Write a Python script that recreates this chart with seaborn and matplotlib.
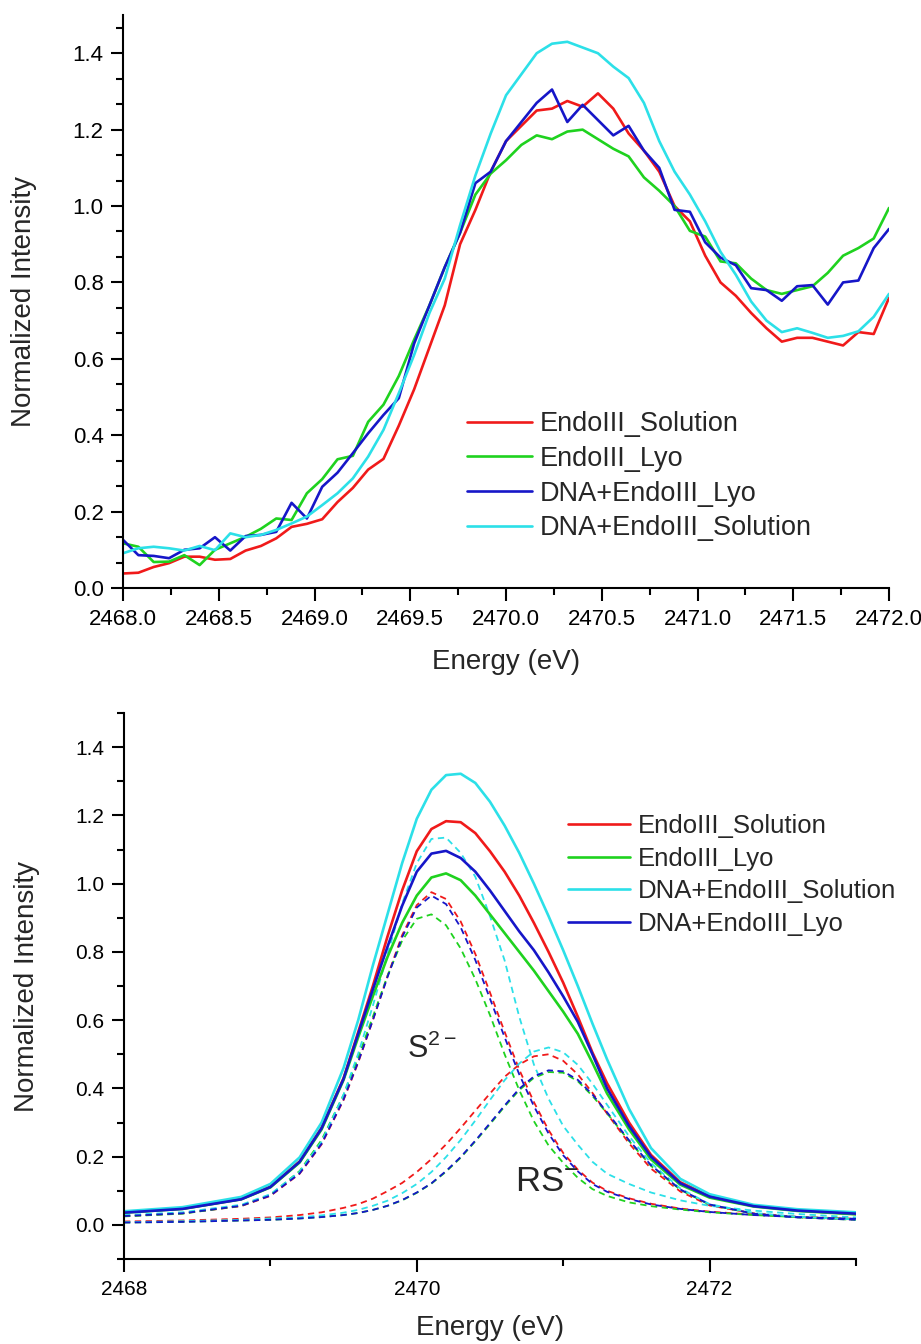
import matplotlib
matplotlib.use("Agg")
import matplotlib.pyplot as plt
from matplotlib.ticker import MultipleLocator, AutoMinorLocator, FormatStrFormatter
import seaborn as sns
from sys import exit

EXIT_SUCCESS = 0

# upper panel: raw spectra
energyTop = [2468.00, 2468.08, 2468.16, 2468.24, 2468.32, 2468.40, 2468.48, 2468.56, 2468.64, 2468.72,
	2468.80, 2468.88, 2468.96, 2469.04, 2469.12, 2469.20, 2469.28, 2469.36, 2469.44, 2469.52,
	2469.60, 2469.68, 2469.76, 2469.84, 2469.92, 2470.00, 2470.08, 2470.16, 2470.24, 2470.32,
	2470.40, 2470.48, 2470.56, 2470.64, 2470.72, 2470.80, 2470.88, 2470.96, 2471.04, 2471.12,
	2471.20, 2471.28, 2471.36, 2471.44, 2471.52, 2471.60, 2471.68, 2471.76, 2471.84, 2471.92, 2472.00]
solutionTop = [0.038, 0.040, 0.055, 0.065, 0.082, 0.082, 0.074, 0.076, 0.098, 0.110, 0.130, 0.160, 0.168,
	0.180, 0.225, 0.262, 0.310, 0.338, 0.425, 0.520, 0.630, 0.740, 0.900, 0.990, 1.090, 1.170, 1.210,
	1.250, 1.255, 1.275, 1.260, 1.295, 1.255, 1.190, 1.145, 1.090, 1.000, 0.960, 0.870, 0.800, 0.765,
	0.720, 0.680, 0.645, 0.655, 0.655, 0.645, 0.635, 0.670, 0.665, 0.760]
lyoTop = [0.117, 0.108, 0.068, 0.069, 0.086, 0.060, 0.100, 0.117, 0.134, 0.155, 0.182, 0.178, 0.248,
	0.285, 0.337, 0.346, 0.435, 0.480, 0.555, 0.650, 0.740, 0.840, 0.930, 1.030, 1.085, 1.120, 1.160,
	1.185, 1.175, 1.195, 1.200, 1.175, 1.150, 1.130, 1.075, 1.040, 1.000, 0.935, 0.920, 0.855, 0.850,
	0.810, 0.780, 0.770, 0.780, 0.790, 0.825, 0.870, 0.890, 0.915, 0.995]
dnaLyoTop = [0.126, 0.086, 0.084, 0.078, 0.100, 0.104, 0.133, 0.098, 0.136, 0.139, 0.147, 0.223, 0.182,
	0.265, 0.302, 0.353, 0.405, 0.453, 0.497, 0.640, 0.740, 0.840, 0.930, 1.060, 1.090, 1.170, 1.220,
	1.270, 1.305, 1.220, 1.265, 1.225, 1.185, 1.210, 1.145, 1.100, 0.990, 0.985, 0.905, 0.865, 0.845,
	0.785, 0.780, 0.752, 0.790, 0.793, 0.742, 0.800, 0.805, 0.890, 0.940]
dnaSolutionTop = [0.091, 0.104, 0.108, 0.104, 0.098, 0.110, 0.099, 0.143, 0.133, 0.139, 0.152, 0.169, 0.187,
	0.217, 0.248, 0.287, 0.344, 0.414, 0.510, 0.610, 0.720, 0.810, 0.950, 1.080, 1.190, 1.290, 1.345,
	1.400, 1.425, 1.430, 1.415, 1.400, 1.365, 1.335, 1.270, 1.170, 1.090, 1.030, 0.960, 0.880, 0.820,
	0.750, 0.700, 0.670, 0.680, 0.668, 0.655, 0.660, 0.672, 0.710, 0.770]

# lower panel: fits (solid) and S2- / RS- components (dashed)
energyFit = [2468.0, 2468.4, 2468.8, 2469.0, 2469.2, 2469.35, 2469.5, 2469.6, 2469.7, 2469.8, 2469.9,
	2470.0, 2470.1, 2470.2, 2470.3, 2470.4, 2470.5, 2470.6, 2470.7, 2470.8, 2470.9, 2471.0, 2471.1,
	2471.2, 2471.3, 2471.45, 2471.6, 2471.8, 2472.0, 2472.3, 2472.6, 2473.0]
solutionFit = [0.037, 0.048, 0.076, 0.112, 0.186, 0.285, 0.430, 0.565, 0.700, 0.845, 0.980, 1.095, 1.160,
	1.183, 1.180, 1.148, 1.095, 1.035, 0.965, 0.885, 0.800, 0.710, 0.610, 0.505, 0.415, 0.300, 0.205,
	0.125, 0.085, 0.056, 0.043, 0.032]
lyoFit = [0.036, 0.047, 0.075, 0.110, 0.183, 0.280, 0.425, 0.550, 0.670, 0.785, 0.885, 0.965, 1.018,
	1.030, 1.010, 0.965, 0.910, 0.855, 0.800, 0.745, 0.685, 0.625, 0.560, 0.475, 0.385, 0.280, 0.192,
	0.118, 0.080, 0.054, 0.041, 0.031]
dnaSolutionFit = [0.040, 0.052, 0.082, 0.120, 0.198, 0.300, 0.460, 0.600, 0.760, 0.910, 1.060, 1.190, 1.275,
	1.318, 1.322, 1.295, 1.240, 1.170, 1.090, 1.000, 0.905, 0.805, 0.700, 0.590, 0.485, 0.340, 0.225,
	0.135, 0.090, 0.059, 0.046, 0.037]
dnaLyoFit = [0.036, 0.047, 0.075, 0.111, 0.185, 0.283, 0.428, 0.560, 0.690, 0.815, 0.935, 1.035, 1.088,
	1.096, 1.075, 1.035, 0.980, 0.920, 0.860, 0.805, 0.740, 0.670, 0.595, 0.500, 0.400, 0.290, 0.200,
	0.122, 0.083, 0.055, 0.042, 0.033]

solutionS2 = [0.026, 0.034, 0.055, 0.085, 0.150, 0.236, 0.366, 0.476, 0.600, 0.729, 0.849, 0.937, 0.975,
	0.955, 0.889, 0.794, 0.681, 0.566, 0.455, 0.360, 0.278, 0.211, 0.162, 0.124, 0.100, 0.078, 0.062,
	0.048, 0.039, 0.030, 0.024, 0.018]
lyoS2 = [0.025, 0.033, 0.056, 0.088, 0.158, 0.249, 0.381, 0.491, 0.610, 0.730, 0.833, 0.897, 0.910,
	0.878, 0.810, 0.720, 0.615, 0.500, 0.395, 0.304, 0.233, 0.182, 0.138, 0.105, 0.085, 0.066, 0.055,
	0.045, 0.037, 0.029, 0.023, 0.017]
dnaSolutionS2 = [0.029, 0.037, 0.059, 0.090, 0.156, 0.244, 0.382, 0.502, 0.642, 0.793, 0.941, 1.060, 1.131,
	1.135, 1.090, 1.020, 0.905, 0.775, 0.610, 0.470, 0.370, 0.290, 0.235, 0.185, 0.150, 0.120, 0.095,
	0.072, 0.056, 0.042, 0.032, 0.022]
dnaLyoS2 = [0.026, 0.034, 0.056, 0.086, 0.151, 0.238, 0.368, 0.478, 0.600, 0.726, 0.843, 0.930, 0.965,
	0.940, 0.872, 0.776, 0.663, 0.550, 0.441, 0.348, 0.268, 0.204, 0.157, 0.120, 0.097, 0.076, 0.060,
	0.047, 0.038, 0.029, 0.023, 0.018]

solutionRS = [0.010, 0.013, 0.018, 0.022, 0.029, 0.037, 0.050, 0.061, 0.077, 0.099, 0.123, 0.155, 0.193,
	0.236, 0.284, 0.335, 0.385, 0.434, 0.470, 0.494, 0.500, 0.481, 0.441, 0.387, 0.326, 0.239, 0.165,
	0.098, 0.057, 0.034, 0.023, 0.016]
lyoRS = [0.007, 0.009, 0.013, 0.015, 0.019, 0.023, 0.029, 0.035, 0.044, 0.056, 0.072, 0.094, 0.121,
	0.156, 0.197, 0.245, 0.295, 0.347, 0.395, 0.431, 0.448, 0.446, 0.421, 0.378, 0.327, 0.246, 0.173,
	0.103, 0.059, 0.033, 0.022, 0.015]
dnaSolutionRS = [0.008, 0.011, 0.015, 0.019, 0.022, 0.028, 0.036, 0.044, 0.056, 0.071, 0.093, 0.120, 0.155,
	0.199, 0.249, 0.306, 0.366, 0.424, 0.473, 0.508, 0.520, 0.506, 0.469, 0.414, 0.352, 0.260, 0.181,
	0.107, 0.061, 0.035, 0.024, 0.016]
dnaLyoRS = [0.007, 0.009, 0.013, 0.015, 0.019, 0.023, 0.029, 0.035, 0.044, 0.056, 0.073, 0.095, 0.122,
	0.158, 0.199, 0.247, 0.298, 0.350, 0.399, 0.435, 0.453, 0.450, 0.425, 0.382, 0.330, 0.248, 0.175,
	0.104, 0.060, 0.033, 0.022, 0.015]

RED = "#f01a1a"
GREEN = "#1fd21f"
BLUE = "#1616c8"
CYAN = "#2ce0e8"


def styleAxes(ax, tickSize):
	sns.despine(ax=ax)
	for side in ("left", "bottom"):
		ax.spines[side].set_linewidth(1.5)
		ax.spines[side].set_color("black")
	ax.tick_params(axis="both", which="major", direction="out", length=9, width=1.5,
		labelsize=tickSize, colors="black", pad=5)
	ax.tick_params(axis="both", which="minor", direction="out", length=5, width=1.5, colors="black")
	ax.tick_params(axis="x", which="major", pad=6)
	ax.set_ylabel("Normalized Intensity", fontsize=20)
	ax.set_xlabel("Energy (eV)", fontsize=20)


def main():
	sns.set_style("ticks")
	plt.rcParams["font.family"] = ["Liberation Sans", "DejaVu Sans"]
	plt.rcParams["mathtext.fontset"] = "custom"
	plt.rcParams["mathtext.rm"] = "Liberation Sans"
	fig = plt.figure(figsize=(9.21, 13.44), dpi=100)

	# --- top panel
	axTop = fig.add_axes([0.1336, 0.5625, 0.8317, 0.4263])
	topSeries = [(solutionTop, RED, "EndoIII_Solution"), (lyoTop, GREEN, "EndoIII_Lyo"),
		(dnaLyoTop, BLUE, "DNA+EndoIII_Lyo"), (dnaSolutionTop, CYAN, "DNA+EndoIII_Solution")]
	handles = []
	for values, color, name in topSeries:
		sns.lineplot(x=energyTop, y=values, ax=axTop, color=color, linewidth=1.9, errorbar=None, legend=False)
		handles.append(axTop.get_lines()[-1])
	axTop.set_xlim(2468, 2472)
	axTop.set_ylim(0, 1.5)
	axTop.xaxis.set_major_locator(MultipleLocator(0.5))
	axTop.xaxis.set_minor_locator(AutoMinorLocator(2))
	axTop.xaxis.set_major_formatter(FormatStrFormatter("%.1f"))
	axTop.yaxis.set_major_locator(MultipleLocator(0.2))
	axTop.yaxis.set_minor_locator(AutoMinorLocator(3))
	axTop.yaxis.set_major_formatter(FormatStrFormatter("%.1f"))
	styleAxes(axTop, 16)
	axTop.yaxis.set_label_coords(-0.112, 0.5)
	axTop.xaxis.set_label_coords(0.5, -0.106)
	axTop.legend(handles, [s[2] for s in topSeries], loc="upper left", bbox_to_anchor=(0.507, 0.694),
		bbox_transform=fig.transFigure, frameon=False, fontsize=19.5, handlelength=2.4,
		handletextpad=0.3, labelspacing=0.32, borderpad=0, borderaxespad=0)

	# --- bottom panel
	axBot = fig.add_axes([0.1346, 0.0632, 0.7948, 0.4063])
	components = [(solutionS2, solutionRS, RED), (lyoS2, lyoRS, GREEN),
		(dnaSolutionS2, dnaSolutionRS, CYAN), (dnaLyoS2, dnaLyoRS, BLUE)]
	for s2, rs, color in components:
		for values in (s2, rs):
			sns.lineplot(x=energyFit, y=values, ax=axBot, color=color, linewidth=1.3,
				linestyle=(0, (3.5, 2.5)), errorbar=None, legend=False)
	fitSeries = [(solutionFit, RED, "EndoIII_Solution"), (lyoFit, GREEN, "EndoIII_Lyo"),
		(dnaSolutionFit, CYAN, "DNA+EndoIII_Solution"), (dnaLyoFit, BLUE, "DNA+EndoIII_Lyo")]
	handles = []
	for values, color, name in fitSeries:
		sns.lineplot(x=energyFit, y=values, ax=axBot, color=color, linewidth=1.9, errorbar=None, legend=False)
		handles.append(axBot.get_lines()[-1])
	axBot.set_xlim(2468, 2473)
	axBot.set_ylim(-0.1, 1.5)
	axBot.xaxis.set_major_locator(MultipleLocator(2))
	axBot.xaxis.set_minor_locator(AutoMinorLocator(2))
	axBot.xaxis.set_major_formatter(FormatStrFormatter("%d"))
	axBot.yaxis.set_major_locator(MultipleLocator(0.2))
	axBot.yaxis.set_minor_locator(AutoMinorLocator(2))
	axBot.yaxis.set_major_formatter(FormatStrFormatter("%.1f"))
	styleAxes(axBot, 15)
	axBot.yaxis.set_label_coords(-0.115, 0.5)
	axBot.xaxis.set_label_coords(0.5, -0.102)
	axBot.text(2469.93, 0.49, r"S$^{\mathregular{2-}}$", fontsize=22, ha="left", va="baseline")
	axBot.text(2470.67, 0.10, r"RS$^{\mathregular{-}}$", fontsize=25, ha="left", va="baseline")
	axBot.legend(handles, [s[2] for s in fitSeries], loc="upper left", bbox_to_anchor=(0.617, 0.394),
		bbox_transform=fig.transFigure, frameon=False, fontsize=18.5, handlelength=2.4,
		handletextpad=0.3, labelspacing=0.33, borderpad=0, borderaxespad=0)

	fig.savefig("out.png", dpi=100)
	plt.close(fig)
	return EXIT_SUCCESS


if "__main__" == __name__:
	exit(main())
